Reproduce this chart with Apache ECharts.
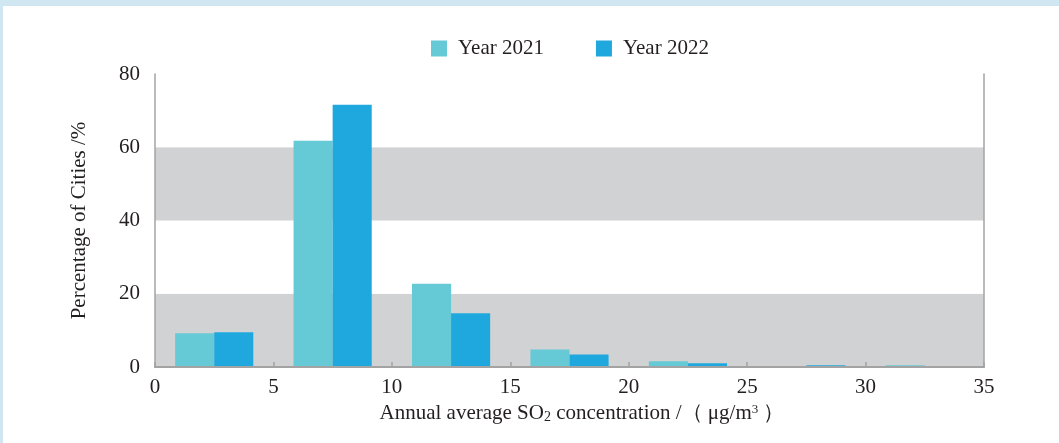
<!DOCTYPE html>
<html>
<head>
<meta charset="utf-8">
<script src="https://cdn.jsdelivr.net/npm/echarts@6/dist/echarts.min.js"></script>
<style>
  html, body { margin: 0; padding: 0; }
  body { width: 1059px; height: 443px; background: #d0e6f0; position: relative; overflow: hidden; }
  #chart { position: absolute; left: 3px; top: 6px; width: 1056px; height: 437px; background: #ffffff; }
</style>
</head>
<body>
<div id="chart"></div>
<script>
// Bin centres (µg/m³) for each concentration class of width 5
const binCenters = ['2.5', '7.5', '12.5', '17.5', '22.5', '27.5', '32.5'];
const seriesNames = ['Year 2021', 'Year 2022'];
const year2021 = [9.2, 61.8, 22.7, 4.8, 1.6, 0, 0.5];
const year2022 = [9.5, 71.6, 14.7, 3.4, 1.0, 0.5, 0];
const xTicks = [0, 5, 10, 15, 20, 25, 30, 35];
const yTicks = [0, 20, 40, 60, 80];

const FONT = 'Liberation Serif';
const TXT = '#231f20';
const AX = '#a3a3a3';

const chart = echarts.init(document.getElementById('chart'), null, { renderer: 'canvas' });
chart.setOption({
  animation: false,
  textStyle: { fontFamily: FONT, color: TXT },
  color: ['#66c9d6', '#1fa8dd'],
  legend: {
    data: seriesNames,
    left: 423, top: 27,
    itemWidth: 16, itemHeight: 16, itemGap: 52,
    icon: 'rect',
    itemStyle: { borderWidth: 0 },
    textStyle: { fontFamily: FONT, fontSize: 21, color: TXT, padding: [0, 0, 0, 6] }
  },
  grid: { left: 152, right: 75, top: 68, bottom: 76 },
  xAxis: [
    {
      type: 'category', data: binCenters, position: 'top', boundaryGap: true,
      axisLine: { show: true, lineStyle: { color: AX, width: 1.5 } },
      axisTick: { show: false }, axisLabel: { show: false }, splitLine: { show: false }
    },
    {
      type: 'value', min: xTicks[0], max: xTicks[xTicks.length - 1], interval: 5, position: 'bottom',
      z: 5,
      axisLine: { show: true, onZero: false, lineStyle: { color: AX, width: 2 } },
      axisTick: { show: true, inside: true, length: 5, lineStyle: { color: AX, width: 1.5 } },
      axisLabel: { fontFamily: FONT, fontSize: 21, color: TXT, margin: 10 },
      splitLine: { show: false },
      name: 'Annual average SO{sub|2} concentration /（ μg/m{sup|3} ）',
      nameLocation: 'middle', nameGap: 36,
      nameTextStyle: {
        fontFamily: FONT, fontSize: 21, color: TXT, padding: [0, 0, 0, 25],
        rich: {
          sub: { fontFamily: FONT, fontSize: 14, color: TXT, verticalAlign: 'bottom', padding: [7, 0, 0, 0] },
          sup: { fontFamily: FONT, fontSize: 13, color: TXT, verticalAlign: 'top', padding: [0, 0, 7, 0] }
        }
      }
    }
  ],
  yAxis: [
    {
      type: 'value', min: yTicks[0], max: yTicks[yTicks.length - 1], interval: 20,
      axisLine: { show: true, lineStyle: { color: AX, width: 1.5 } },
      axisTick: { show: false },
      axisLabel: { fontFamily: FONT, fontSize: 21, color: TXT, margin: 15 },
      splitLine: { show: false },
      splitArea: { show: true, areaStyle: { color: ['#d1d2d4', '#ffffff'] } },
      name: 'Percentage of Cities /%',
      nameLocation: 'middle', nameGap: 65,
      nameTextStyle: { fontFamily: FONT, fontSize: 21, color: TXT }
    },
    {
      type: 'value', min: 0, max: 80, interval: 20, position: 'right',
      axisLine: { show: true, lineStyle: { color: AX, width: 1.5 } },
      axisTick: { show: false }, axisLabel: { show: false }, splitLine: { show: false }
    }
  ],
  series: [
    {
      name: seriesNames[0], type: 'bar', xAxisIndex: 0, yAxisIndex: 0,
      data: year2021, barWidth: '33%', barGap: '0%',
      itemStyle: { borderWidth: 0 }
    },
    {
      name: seriesNames[1], type: 'bar', xAxisIndex: 0, yAxisIndex: 0,
      data: year2022, barWidth: '33%', barGap: '0%',
      itemStyle: { borderWidth: 0 }
    }
  ]
});
</script>
</body>
</html>
